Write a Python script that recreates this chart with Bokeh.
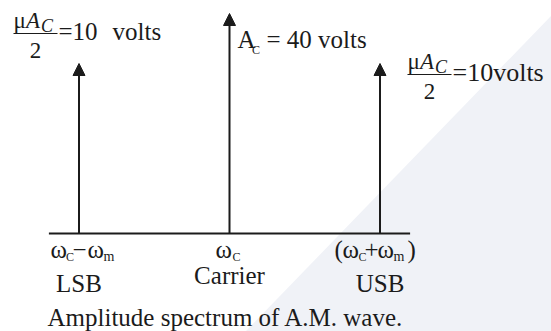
import math

from bokeh.embed import file_html
from bokeh.models import Arrow, Label, NormalHead, PolyAnnotation, Range1d
from bokeh.models import ColumnDataSource
from bokeh.plotting import figure
from bokeh.resources import INLINE

# Spectral lines of the AM wave (positions in units of omega_m from the carrier)
band_names = ["LSB", "Carrier", "USB"]
offsets = [-1, 0, 1]
amplitudes = [10, 40, 10]  # volts

W, H = 551, 331
FONT = "Liberation Serif"
INK = "#1b1b1b"
BIG = 25      # main text size
FRAC = 23     # fraction numerator / denominator
SUB = 12      # subscripts

# layout of the drawing area (pixels)
PX_PER_UNIT = 150.5      # horizontal pixels per omega_m
CARRIER_PX = 229         # horizontal position of the carrier line
PX_PER_DECADE = 83.05    # amplitude axis is logarithmic
TOP_PAD = 13             # space above the tallest line
FLOOR_PX = 233           # where the frequency axis sits

X0 = -CARRIER_PX / PX_PER_UNIT
X1 = (W - CARRIER_PX) / PX_PER_UNIT
LOG_TOP = math.log10(max(amplitudes)) + TOP_PAD / PX_PER_DECADE
LOG_BOTTOM = LOG_TOP - H / PX_PER_DECADE


def dx(px):
    return X0 + px / PX_PER_UNIT


def dy(py):
    return 10 ** (LOG_TOP - py / PX_PER_DECADE)


BASE = dy(FLOOR_PX)

p = figure(
    width=W, height=H,
    x_range=Range1d(X0, X1),
    y_range=Range1d(10 ** LOG_BOTTOM, 10 ** LOG_TOP),
    y_axis_type="log",
    x_axis_location=None, y_axis_location=None,
    toolbar_location=None, output_backend="svg",
    min_border=0, outline_line_color=None,
    background_fill_color="white", border_fill_color="white",
)
p.grid.visible = False

# faint diagonal backdrop on the right
p.add_layout(PolyAnnotation(
    xs=[dx(245), dx(W), dx(W)], ys=[dy(H), dy(H), dy(15)],
    fill_color="#f0f2f7", fill_alpha=1.0, line_color=None, level="underlay",
))

# frequency axis
pad = 0.2
p.segment(x0=[min(offsets) - pad], y0=[BASE], x1=[max(offsets) + pad], y1=[BASE],
          line_width=2, line_color=INK)

# spectral lines as arrows
src = ColumnDataSource(dict(x=offsets, amp=amplitudes, base=[BASE] * len(offsets)))
p.add_layout(Arrow(
    end=NormalHead(size=12, fill_color=INK, line_color=INK, line_width=1),
    x_start="x", y_start="base", x_end="x", y_end="amp",
    line_width=2, line_color=INK, source=src,
))


def txt(s, px, py, size, style="normal", align="left", x=None):
    # py is the text baseline; labels are positioned by their middle
    p.add_layout(Label(
        x=dx(px) if x is None else x, y=dy(py - 0.34 * size), text=s,
        text_font=FONT, text_font_size=f"{size}px", text_font_style=style,
        text_align=align, text_baseline="middle", text_color=INK,
    ))


def bar(px0, px1, py):
    p.segment(x0=[dx(px0)], y0=[dy(py)], x1=[dx(px1)], y1=[dy(py)],
              line_width=1.2, line_color=INK)


def half_amp_fraction(px, py_bar):
    # mu*A_C over 2
    txt("μ", px, py_bar - 5, FRAC)
    txt("A", px + 12.5, py_bar - 5, FRAC, "italic")
    txt("C", px + 27.5, py_bar - 1, 18, "italic")
    bar(px, px + 44, py_bar)
    txt("2", px + 22, py_bar + 25, FRAC, align="center")


# lower sideband amplitude
half_amp_fraction(13, 33)
txt(f"={amplitudes[0]}", 58, 39, BIG)
txt("volts", 112, 39, BIG)

# carrier amplitude
txt("A", 237, 47, BIG)
txt("C", 251.5, 54, SUB)
txt(f"= {amplitudes[1]} volts", 266, 47, BIG)

# upper sideband amplitude
half_amp_fraction(407, 74)
txt(f"={amplitudes[2]}volts", 452, 81, 26)

# frequency labels under each line
txt("ω", 50, 257, BIG)
txt("C", 65.5, 261, SUB)
txt("−", 72, 257, BIG)
txt("ω", 87, 257, BIG)
txt("m", 103, 261, 14)

txt("ω", 215, 257, BIG)
txt("C", 232, 261, SUB)

txt("(", 334, 257, BIG)
txt("ω", 342, 257, BIG)
txt("C", 358, 261, SUB)
txt("+", 364, 257, BIG)
txt("ω", 377, 257, BIG)
txt("m", 393, 261, 14)
txt(")", 407, 257, BIG)

# band names
for name, off in zip(band_names, offsets):
    txt(name, 0, 283 if name == "Carrier" else 291, BIG, align="center", x=off)

# caption
txt("Amplitude spectrum of A.M. wave.", 47, 325, BIG)

open("out.html", "w").write(file_html(p, INLINE))
